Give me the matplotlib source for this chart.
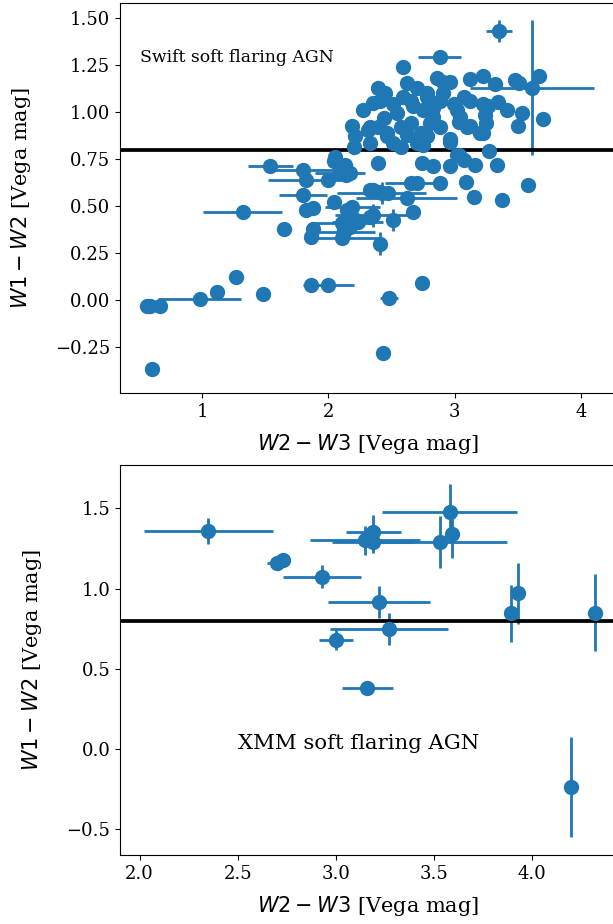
import numpy as np
import matplotlib
matplotlib.use("Agg")
import matplotlib.pyplot as plt

plt.rcParams['font.family'] = 'DejaVu Serif'
plt.rcParams['mathtext.fontset'] = 'dejavusans'

# Swift soft flaring AGN: W2-W3, W1-W2 and errors
swift_w23 = [0.56, 0.59, 0.67, 0.98, 1.12, 1.27, 1.48, 1.86, 2.00, 0.60, 2.74, 2.48, 2.43, 2.41,
             1.54, 1.80, 1.82, 2.04, 2.09, 2.00, 2.17, 1.80, 1.32, 1.82, 1.88, 2.04, 2.15, 2.20,
             1.65, 1.88, 1.86, 2.12, 2.17, 2.39, 2.74, 2.83, 2.96, 3.03, 3.07, 3.16, 3.27, 3.33,
             2.96, 2.88, 3.09, 3.58, 3.15, 3.37, 2.65, 2.70, 2.33, 2.42, 2.47, 2.62, 2.67, 2.35,
             2.51, 2.13, 2.14, 2.35, 2.41, 2.19, 2.33, 2.11, 2.23, 2.12, 2.11, 2.05,
             3.35, 2.88, 2.59, 3.61, 3.67, 3.48, 3.51, 3.32, 3.22, 3.12, 3.70, 3.53, 3.50, 3.41,
             3.34, 3.26, 3.24, 3.22, 2.96, 3.12, 3.04, 2.88, 2.99, 2.91, 2.86, 2.96, 2.39, 2.35,
             2.27, 2.62, 2.70, 2.78, 2.59, 2.51, 2.54, 2.67, 2.75, 2.83, 2.39, 2.46, 2.31, 2.57,
             2.65, 2.73, 2.80, 2.88, 2.70, 2.51, 2.33, 3.02, 2.19, 2.20, 2.21, 2.33, 2.41, 2.44,
             2.45, 2.65, 2.78, 2.91, 3.07, 3.12, 3.22, 2.83, 3.02, 3.03, 3.10, 3.25, 2.46, 2.62,
             2.78, 3.20, 2.57, 2.75]
swift_w12 = [-0.03, -0.03, -0.03, 0.005, 0.04, 0.12, 0.03, 0.08, 0.08, -0.37, 0.09, 0.01, -0.28, 0.30,
             0.71, 0.69, 0.64, 0.74, 0.675, 0.64, 0.675, 0.56, 0.47, 0.48, 0.49, 0.52, 0.48, 0.43,
             0.38, 0.38, 0.335, 0.36, 0.39, 0.73, 0.73, 0.71, 0.71, 0.77, 0.745, 0.72, 0.79, 0.72,
             0.84, 0.62, 0.63, 0.61, 0.55, 0.53, 0.62, 0.62, 0.585, 0.57, 0.57, 0.54, 0.47, 0.45,
             0.425, 0.72, 0.665, 0.585, 0.575, 0.495, 0.44, 0.41, 0.415, 0.37, 0.33, 0.76,
             1.43, 1.29, 1.24, 1.13, 1.19, 1.17, 1.155, 1.15, 1.19, 1.175, 0.96, 0.995, 0.925, 1.01,
             1.055, 1.03, 0.985, 0.89, 0.855, 0.925, 0.975, 1.06, 1.045, 1.16, 1.18, 1.16, 1.125, 1.05,
             1.01, 1.155, 1.13, 1.10, 1.08, 1.045, 0.995, 1.03, 1.01, 0.975, 0.92, 0.89, 0.905, 0.92,
             0.94, 0.89, 0.94, 0.92, 0.835, 0.835, 0.835, 0.77, 0.925, 0.815, 0.87, 0.92, 1.06, 0.97,
             1.10, 1.06, 1.08, 1.10, 1.08, 1.06, 1.045, 1.02, 1.01, 0.945, 0.92, 0.94, 0.87, 0.88,
             0.87, 0.89, 0.815, 0.825]
swift_w23_err = [0, 0, 0, 0.33, 0, 0, 0, 0, 0.20, 0, 0, 0.07, 0, 0,
                 0.18, 0.25, 0.30, 0, 0.20, 0, 0, 0.19, 0.31, 0, 0, 0, 0, 0,
                 0, 0, 0, 0.25, 0, 0, 0, 0, 0, 0, 0, 0, 0, 0,
                 0, 0, 0, 0, 0, 0, 0.20, 0, 0, 0.35, 0, 0.40, 0, 0.30,
                 0, 0, 0, 0, 0, 0.22, 0, 0.25, 0.20, 0, 0.30, 0,
                 0.10, 0.17, 0, 0.49, 0, 0, 0, 0, 0, 0, 0, 0, 0, 0,
                 0, 0, 0, 0, 0, 0, 0, 0, 0, 0, 0, 0, 0, 0,
                 0, 0, 0, 0, 0, 0, 0, 0, 0, 0, 0, 0, 0, 0,
                 0, 0, 0, 0, 0, 0, 0, 0, 0, 0, 0, 0, 0, 0,
                 0, 0, 0, 0, 0, 0, 0, 0, 0, 0, 0, 0, 0, 0,
                 0, 0, 0, 0]
swift_w12_err = [0] * len(swift_w12)
swift_w12_err[13] = 0.06
swift_w12_err[51] = 0.06
swift_w12_err[55] = 0.06
swift_w12_err[56] = 0.06
swift_w12_err[68] = 0.06
swift_w12_err[69] = 0.03
swift_w12_err[71] = 0.36

# XMM soft flaring AGN
xmm_w23 = [2.35, 2.70, 2.73, 2.93, 3.00, 3.16, 3.22, 3.27, 3.15, 3.19, 3.19, 3.53, 3.59, 3.58,
           3.89, 3.93, 4.32, 4.20]
xmm_w12 = [1.36, 1.16, 1.175, 1.075, 0.68, 0.38, 0.915, 0.75, 1.30, 1.35, 1.29, 1.29, 1.34, 1.48,
           0.845, 0.97, 0.85, -0.235]
xmm_w23_err = [0.33, 0.05, 0.03, 0.20, 0.087, 0.13, 0.26, 0.30, 0.28, 0.14, 0.21, 0.34, 0.0, 0.345,
               0.0, 0.0, 0.0, 0.0]
xmm_w12_err = [0.08, 0.02, 0.02, 0.07, 0.06, 0.04, 0.10, 0.10, 0.09, 0.11, 0.07, 0.16, 0.15, 0.17,
               0.18, 0.19, 0.24, 0.31]

cut = 0.8
blue = '#1f77b4'

fig = plt.figure(figsize=(6.13, 9.24), dpi=100)
ax1 = fig.add_axes([0.1958, 0.5747, 0.81, 0.4221])
ax2 = fig.add_axes([0.1958, 0.0747, 0.81, 0.4221])

ax1.errorbar(swift_w23, swift_w12, xerr=swift_w23_err, yerr=swift_w12_err,
             fmt='o', ms=10, color=blue, elinewidth=2)
ax1.axhline(cut, color='k', lw=2.7)
ax1.text(0.51, 1.265, 'Swift soft flaring AGN', fontsize=12.4)
ax1.set_xlim(0.35, 4.28)
ax1.set_ylim(-0.495, 1.58)
ax1.set_yticks([-0.25, 0.0, 0.25, 0.5, 0.75, 1.0, 1.25, 1.5])
ax1.set_xticks([1, 2, 3, 4])

ax2.errorbar(xmm_w23, xmm_w12, xerr=xmm_w23_err, yerr=xmm_w12_err,
             fmt='o', ms=10, color=blue, elinewidth=2)
ax2.axhline(cut, color='k', lw=2.7)
ax2.text(2.5, 0.0, 'XMM soft flaring AGN', fontsize=15.3)
ax2.set_xlim(1.90, 4.43)
ax2.set_ylim(-0.66, 1.77)
ax2.set_yticks([-0.5, 0.0, 0.5, 1.0, 1.5])
ax2.set_xticks([2.0, 2.5, 3.0, 3.5, 4.0])

for ax in (ax1, ax2):
    ax.tick_params(labelsize=13)
    ax.set_xlabel(r'$W2-W3$ [Vega mag]', fontsize=15, labelpad=8)
    ax.set_ylabel(r'$W1-W2$ [Vega mag]', fontsize=15, labelpad=16)

fig.savefig('out.png', dpi=100)
